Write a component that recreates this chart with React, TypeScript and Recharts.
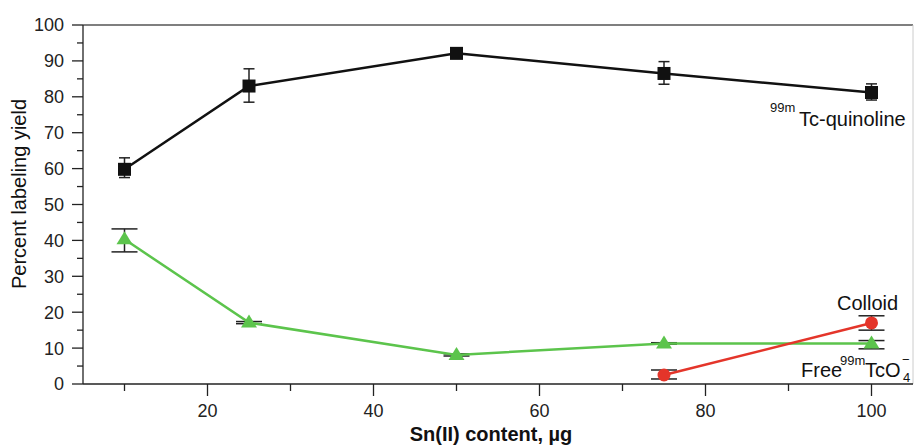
import { ComposedChart, Line, XAxis, YAxis, ErrorBar, ReferenceLine } from 'recharts';

// Sn(II) content (µg)
const snContent = [10, 25, 50, 75, 100];
// 99mTc-quinoline yield (%) and asymmetric error [below, above]
const quinoline = [59.8, 83, 92.1, 86.5, 81.2];
const quinolineErr = [[2.3, 3.2], [4.5, 4.8], [1.2, 1.2], [3.0, 3.3], [2.1, 2.4]];
// Free 99mTcO4-
const freeTc = [40.3, 17.1, 8.1, 11.3, 11.3];
const freeTcErr = [[3.5, 2.9], [0.3, 0.3], [0.3, 0.3], [0.2, 0.2], [1.5, 0.8]];
// Colloid
const colloidX = [75, 100];
const colloid = [2.5, 17];
const colloidErr = [[1.1, 1.4], [2, 2]];

const xTicks = [10, 20, 30, 40, 50, 60, 70, 80, 90, 100];
const yTicks = [0, 5, 10, 15, 20, 25, 30, 35, 40, 45, 50, 55, 60, 65, 70, 75, 80, 85, 90, 95, 100];

const quinolineData = snContent.map((x, i) => ({ x, y: quinoline[i], err: quinolineErr[i] }));
const freeData = snContent.map((x, i) => ({ x, y: freeTc[i], err: freeTcErr[i] }));
const colloidData = colloidX.map((x, i) => ({ x, y: colloid[i], err: colloidErr[i] }));

const FONT = 'Liberation Sans, Arial, Helvetica, sans-serif';
const INK = '#222';

const YTick = (props: any) => {
  const { x, y, payload } = props;
  const major = payload.value % 10 === 0;
  return (
    <g>
      <line x1={x - (major ? 11 : 6)} x2={x} y1={y} y2={y} stroke={INK} strokeWidth={1.3} />
      {major && (
        <text x={x - 19} y={y} dy="0.36em" textAnchor="end" fontSize={18} fill={INK} fontFamily={FONT}>
          {payload.value}
        </text>
      )}
    </g>
  );
};

const XTick = (props: any) => {
  const { x, y, payload } = props;
  const major = payload.value % 20 === 0;
  return (
    <g>
      <line x1={x} x2={x} y1={y} y2={y + (major ? 12 : 7)} stroke={INK} strokeWidth={1.3} />
      {major && (
        <text x={x} y={y + 33} textAnchor="middle" fontSize={18} fill={INK} fontFamily={FONT}>
          {payload.value}
        </text>
      )}
    </g>
  );
};

const Square = (p: any) => (
  <rect key={`sq-${p.index}`} x={p.cx - 6.5} y={p.cy - 6.5} width={13} height={13} fill="#111" />
);
const Triangle = (p: any) => (
  <path
    key={`tr-${p.index}`}
    d={`M${p.cx},${p.cy - 8} L${p.cx - 8},${p.cy + 5} L${p.cx + 8},${p.cy + 5} Z`}
    fill="#5cc44c"
  />
);
const Circle = (p: any) => <circle key={`ci-${p.index}`} cx={p.cx} cy={p.cy} r={6.5} fill="#e4352a" />;

export default function App() {
  return (
    <div style={{ position: 'absolute', left: 0, top: 0, width: 914, height: 446, background: '#fff' }}>
      <ComposedChart width={914} height={446} margin={{ top: 25, right: 1, bottom: 0, left: 0 }}>
        <XAxis
          dataKey="x"
          type="number"
          domain={[5, 105]}
          ticks={xTicks}
          interval={0}
          allowDataOverflow
          height={62}
          tickSize={0}
          tickMargin={0}
          tick={<XTick />}
          axisLine={{ stroke: INK, strokeWidth: 1.3 }}
        />
        <YAxis
          type="number"
          domain={[0, 100]}
          ticks={yTicks}
          interval={0}
          width={83}
          tickSize={0}
          tickMargin={0}
          tick={<YTick />}
          axisLine={{ stroke: INK, strokeWidth: 1.3 }}
        />
        <ReferenceLine y={100} stroke="#555" strokeWidth={1.3} />
        <ReferenceLine x={105} stroke="#ccc" strokeWidth={1} />
        <Line
          data={freeData}
          dataKey="y"
          stroke="#5cc44c"
          strokeWidth={2.5}
          dot={Triangle}
          activeDot={false}
          isAnimationActive={false}
        >
          <ErrorBar dataKey="err" direction="y" width={13} stroke={INK} strokeWidth={1.5} />
        </Line>
        <Line
          data={colloidData}
          dataKey="y"
          stroke="#e4352a"
          strokeWidth={2.5}
          dot={Circle}
          activeDot={false}
          isAnimationActive={false}
        >
          <ErrorBar dataKey="err" direction="y" width={13} stroke={INK} strokeWidth={1.5} />
        </Line>
        <Line
          data={quinolineData}
          dataKey="y"
          stroke="#111"
          strokeWidth={2.5}
          dot={Square}
          activeDot={false}
          isAnimationActive={false}
        >
          <ErrorBar dataKey="err" direction="y" width={5.5} stroke={INK} strokeWidth={1.5} />
        </Line>
      </ComposedChart>
      <svg
        width={914}
        height={446}
        style={{ position: 'absolute', left: 0, top: 0, pointerEvents: 'none' }}
        fontFamily={FONT}
        fill="#111"
      >
        <text x={26} y={194} transform="rotate(-90, 26, 194)" textAnchor="middle" fontSize={20}>
          Percent labeling yield
        </text>
        <text x={491} y={441} textAnchor="middle" fontSize={20} fontWeight="bold">
          Sn(II) content, µg
        </text>
        <text x={770} y={112} fontSize={13}>99m</text>
        <text x={799} y={126} fontSize={20}>Tc-quinoline</text>
        <text x={837} y={310} fontSize={20}>Colloid</text>
        <text x={801} y={377} fontSize={20}>Free</text>
        <text x={840} y={365} fontSize={13}>99m</text>
        <text x={865} y={377} fontSize={20}>TcO</text>
        <text x={903} y={382} fontSize={13}>4</text>
        <text x={902} y={364} fontSize={13}>−</text>
      </svg>
    </div>
  );
}
